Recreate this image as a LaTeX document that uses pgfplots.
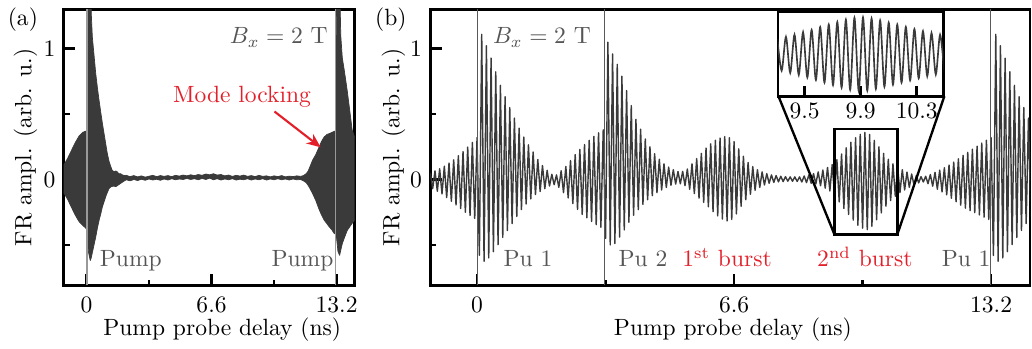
\documentclass[border=0pt]{standalone}
\usepackage{pgfplots}
\pgfplotsset{compat=1.18}
\usetikzlibrary{arrows.meta}
\definecolor{sig}{HTML}{3A3A3A}
\definecolor{txtgray}{HTML}{555555}
\definecolor{myred}{HTML}{E3202A}
\pgfplotsset{
  myax/.style={scale only axis, height=117.3pt,
    axis line style={line width=1.1pt},
    every tick/.style={black, line width=1.1pt},
    tick align=inside, major tick length=5pt, minor tick length=2.5pt,
    xtick pos=left, ytick pos=left,
    ymin=-0.81, ymax=1.3, ytick={0,1}, yticklabels={0,1}, minor ytick={-0.5,0.5},
    xtick={0,6.6,13.2}, xticklabels={0,6.6,13.2}, minor xtick={3.3,9.9},
    xticklabel style={yshift=-1.2pt},
    xlabel={Pump probe delay (ns)}, ylabel={FR ampl. (arb. u.)}}
}
\begin{document}
\begin{tikzpicture}
\path (0,0) rectangle (437pt,145.67pt);
% ---------------- panel (a)
\begin{axis}[myax, at={(25.41pt,26.4pt)}, anchor=south west, width=123.65pt,
  xmin=-1.2, xmax=14.15,
  xlabel style={at={(axis description cs:0.545,-0.159)}, anchor=center},
  ylabel style={at={(axis description cs:-0.131,0.5)}, anchor=center}]
\addplot[fill=sig, draw=sig, line width=0.3pt, line join=round] coordinates {(-1.2,0.11)(-1.0,0.16)(-0.8,0.22)(-0.6,0.28)(-0.4,0.33)(-0.2,0.36)(-0.05,0.37)(0.0,0.37)(0.02,0.9)(0.05,1.45)(0.22,1.45)(0.26,1.25)(0.31,1.09)(0.4,0.95)(0.49,0.81)(0.58,0.70)(0.67,0.60)(0.76,0.51)(0.84,0.43)(0.93,0.35)(1.02,0.27)(1.1,0.20)(1.19,0.14)(1.28,0.10)(1.36,0.07)(1.45,0.06)(1.55,0.065)(1.62,0.06)(1.7,0.045)(1.8,0.045)(1.9,0.035)(2.0,0.03)(2.1,0.032)(2.3,0.022)(2.5,0.03)(2.7,0.02)(2.9,0.028)(3.1,0.018)(3.3,0.025)(3.5,0.032)(3.7,0.022)(3.9,0.03)(4.1,0.024)(4.3,0.03)(4.5,0.022)(4.7,0.032)(4.9,0.026)(5.1,0.034)(5.3,0.028)(5.5,0.036)(5.7,0.03)(5.9,0.038)(6.1,0.032)(6.3,0.042)(6.5,0.036)(6.7,0.044)(6.9,0.034)(7.1,0.038)(7.3,0.028)(7.5,0.034)(7.7,0.024)(7.9,0.032)(8.1,0.026)(8.3,0.034)(8.5,0.024)(8.7,0.03)(8.9,0.022)(9.1,0.032)(9.3,0.024)(9.5,0.028)(9.7,0.02)(9.9,0.028)(10.1,0.022)(10.3,0.03)(10.5,0.02)(10.7,0.026)(10.9,0.022)(11.1,0.028)(11.3,0.024)(11.45,0.03)(11.6,0.045)(11.7,0.065)(11.8,0.10)(11.93,0.147)(12.1,0.19)(12.28,0.25)(12.4,0.29)(12.54,0.325)(12.7,0.345)(12.8,0.35)(12.95,0.36)(13.1,0.37)(13.15,0.37)(13.17,0.9)(13.2,1.45)(13.37,1.45)(13.42,1.1)(13.5,0.93)(13.6,0.84)(13.76,0.68)(13.9,0.52)(14.02,0.38)(14.2,0.30)
(14.2,-0.30)(14.02,-0.335)(13.9,-0.36)(13.76,-0.39)(13.6,-0.45)(13.5,-0.49)(13.42,-0.54)(13.36,-0.58)(13.27,-0.55)(13.2,-0.45)(13.15,-0.42)(13.06,-0.41)(12.95,-0.385)(12.8,-0.36)(12.7,-0.34)(12.54,-0.31)(12.4,-0.27)(12.28,-0.23)(12.1,-0.16)(11.93,-0.107)(11.8,-0.07)(11.7,-0.045)(11.6,-0.025)(11.45,-0.01)(11.3,0.0)(11.1,-0.002)(10.9,0.004)(10.7,-0.004)(10.5,0.004)(10.3,-0.002)(10.1,0.006)(9.9,-0.002)(9.7,0.004)(9.5,-0.004)(9.3,0.006)(9.1,-0.002)(8.9,0.004)(8.7,-0.004)(8.5,0.006)(8.3,-0.002)(8.1,0.002)(7.9,-0.004)(7.7,0.006)(7.5,-0.002)(7.3,0.004)(7.1,-0.004)(6.9,0.006)(6.7,-0.002)(6.5,0.01)(6.3,0.0)(6.1,0.008)(5.9,-0.002)(5.7,0.006)(5.5,0.0)(5.3,0.008)(5.1,0.0)(4.9,0.004)(4.7,-0.002)(4.5,0.006)(4.3,-0.004)(4.1,0.004)(3.9,-0.006)(3.7,0.002)(3.5,-0.004)(3.3,0.004)(3.1,-0.006)(2.9,0.002)(2.7,-0.008)(2.5,0.0)(2.3,-0.01)(2.1,-0.002)(1.95,-0.015)(1.8,-0.03)(1.65,-0.045)(1.55,-0.055)(1.45,-0.05)(1.3,-0.055)(1.19,-0.07)(1.1,-0.10)(1.02,-0.13)(0.93,-0.17)(0.84,-0.21)(0.76,-0.26)(0.67,-0.31)(0.58,-0.37)(0.49,-0.44)(0.4,-0.50)(0.31,-0.56)(0.25,-0.60)(0.2,-0.62)(0.1,-0.55)(0.06,-0.42)(0.0,-0.38)(-0.05,-0.37)(-0.2,-0.35)(-0.4,-0.32)(-0.6,-0.27)(-0.8,-0.21)(-1.0,-0.15)(-1.2,-0.10)};
\addplot[black!40, line width=0.5pt] coordinates {(0.03,-0.81)(0.03,1.3)};
\addplot[black!40, line width=0.5pt] coordinates {(13.16,-0.81)(13.16,1.3)};
\node[anchor=base, text=txtgray] at (axis cs:10.15,1.037) {$B_x = 2$ T};
\node[anchor=base, text=txtgray] at (axis cs:2.34,-0.666) {Pump};
\node[anchor=base, text=txtgray] at (axis cs:11.4,-0.666) {Pump};
\node[anchor=base, text=myred] at (axis cs:8.21,0.591) {Mode locking};
\draw[myred, line width=0.9pt, -{Stealth[length=6pt,width=5pt]}] (axis cs:9.92,0.52) -- (axis cs:12.36,0.246);
\end{axis}
% ---------------- panel (b)
\begin{axis}[myax, at={(181.24pt,26.4pt)}, anchor=south west, width=254.92pt,
  xmin=-1.2, xmax=14.2,
  xlabel style={at={(axis description cs:0.5045,-0.159)}, anchor=center},
  ylabel style={at={(axis description cs:-0.0615,0.5)}, anchor=center}]
\addplot[sig, line width=0.6pt, line join=round] coordinates {
(-1.20,0.05)(-1.14,-0.07)(-1.08,0.066)(-1.02,-0.09)(-0.96,0.082)(-0.90,-0.11)(-0.84,0.102)(-0.78,-0.138)(-0.72,0.126)(-0.66,-0.166)(-0.60,0.15)(-0.54,-0.194)(-0.48,0.182)(-0.42,-0.222)(-0.36,0.214)(-0.30,-0.25)(-0.24,0.248)(-0.18,-0.274)(-0.12,0.284)(-0.06,-0.298)(0.00,0.32)
(0.06,-0.58)(0.12,1.11)(0.18,-0.625)(0.24,1.023)(0.30,-0.60)(0.36,0.928)(0.42,-0.552)(0.48,0.824)(0.54,-0.498)(0.60,0.72)(0.66,-0.443)(0.72,0.633)(0.78,-0.39)(0.84,0.55)(0.90,-0.337)(0.96,0.47)(1.02,-0.283)(1.08,0.393)(1.14,-0.23)(1.20,0.325)(1.26,-0.187)(1.32,0.265)(1.38,-0.148)(1.44,0.21)(1.50,-0.115)(1.56,0.153)(1.62,-0.092)(1.68,0.107)(1.74,-0.07)(1.80,0.07)(1.86,-0.05)(1.92,0.04)(1.98,-0.04)(2.04,0.035)(2.10,-0.06)(2.16,0.067)(2.22,-0.10)(2.28,0.10)(2.34,-0.141)(2.40,0.145)(2.46,-0.184)(2.52,0.19)(2.58,-0.228)(2.64,0.23)(2.70,-0.267)(2.76,0.267)(2.82,-0.293)(2.88,0.30)(2.94,-0.32)(3.00,0.33)(3.06,-0.345)(3.12,0.357)(3.18,-0.365)(3.24,0.38)
(3.30,-0.45)(3.36,1.05)(3.42,-0.50)(3.48,0.96)(3.54,-0.49)(3.60,0.88)(3.66,-0.44)(3.72,0.79)(3.78,-0.385)(3.84,0.68)(3.90,-0.327)(3.96,0.565)(4.02,-0.273)(4.08,0.46)(4.14,-0.23)(4.20,0.385)(4.26,-0.19)(4.32,0.31)(4.38,-0.155)(4.44,0.25)(4.50,-0.124)(4.56,0.197)(4.62,-0.10)(4.68,0.155)(4.74,-0.08)(4.80,0.12)(4.86,-0.061)(4.92,0.095)(4.98,-0.044)(5.04,0.075)(5.10,-0.035)(5.16,0.061)(5.22,-0.033)(5.28,0.062)(5.34,-0.047)(5.40,0.08)(5.46,-0.075)(5.52,0.12)(5.58,-0.108)(5.64,0.16)(5.70,-0.142)(5.76,0.20)(5.82,-0.175)(5.88,0.24)(5.94,-0.209)(6.00,0.273)(6.06,-0.246)(6.12,0.30)(6.18,-0.278)(6.24,0.317)(6.30,-0.303)(6.36,0.328)(6.42,-0.317)(6.48,0.32)(6.54,-0.305)(6.60,0.29)(6.66,-0.263)(6.72,0.235)(6.78,-0.205)(6.84,0.178)(6.90,-0.155)(6.96,0.13)(7.02,-0.113)(7.08,0.098)(7.14,-0.083)(7.20,0.075)(7.26,-0.06)(7.32,0.058)(7.38,-0.042)(7.44,0.045)(7.50,-0.029)(7.56,0.035)(7.62,-0.022)(7.68,0.03)(7.74,-0.018)(7.80,0.025)(7.86,-0.016)(7.92,0.022)(7.98,-0.013)(8.04,0.02)(8.10,-0.013)(8.16,0.02)(8.22,-0.015)(8.28,0.02)(8.34,-0.019)(8.40,0.027)(8.46,-0.024)(8.52,0.035)(8.58,-0.029)(8.64,0.045)(8.70,-0.034)(8.76,0.058)(8.82,-0.048)(8.88,0.073)(8.94,-0.066)(9.00,0.092)(9.06,-0.088)(9.12,0.115)(9.18,-0.12)(9.24,0.152)(9.30,-0.171)(9.36,0.195)(9.42,-0.222)(9.48,0.243)(9.54,-0.267)(9.60,0.285)(9.66,-0.31)(9.72,0.32)(9.78,-0.35)(9.84,0.345)(9.90,-0.372)(9.96,0.36)(10.02,-0.383)(10.08,0.345)(10.14,-0.358)(10.20,0.30)(10.26,-0.308)(10.32,0.25)(10.38,-0.255)(10.44,0.20)(10.50,-0.204)(10.56,0.155)(10.62,-0.161)(10.68,0.12)(10.74,-0.128)(10.80,0.095)(10.86,-0.10)(10.92,0.075)(10.98,-0.08)(11.04,0.057)(11.10,-0.06)(11.16,0.042)(11.22,-0.042)(11.28,0.03)(11.34,-0.026)(11.40,0.022)(11.46,-0.019)(11.52,0.025)(11.58,-0.032)(11.64,0.038)(11.70,-0.051)(11.76,0.055)(11.82,-0.074)(11.88,0.072)(11.94,-0.095)(12.00,0.09)(12.06,-0.117)(12.12,0.11)(12.18,-0.143)(12.24,0.133)(12.30,-0.17)(12.36,0.158)(12.42,-0.196)(12.48,0.185)(12.54,-0.219)(12.60,0.208)(12.66,-0.238)(12.72,0.232)(12.78,-0.254)(12.84,0.255)(12.90,-0.271)(12.96,0.278)(13.02,-0.288)(13.08,0.30)(13.14,-0.305)
(13.20,0.32)(13.26,-0.58)(13.32,1.11)(13.38,-0.625)(13.44,1.023)(13.50,-0.60)(13.56,0.928)(13.62,-0.552)(13.68,0.824)(13.74,-0.498)(13.80,0.72)(13.86,-0.443)(13.92,0.633)(13.98,-0.39)(14.04,0.55)(14.10,-0.337)(14.16,0.47)(14.22,-0.283)};
\addplot[black!65, line width=0.5pt] coordinates {(0.02,-0.81)(0.02,1.3)};
\addplot[black!65, line width=0.5pt] coordinates {(3.28,-0.81)(3.28,1.3)};
\addplot[black!65, line width=0.5pt] coordinates {(13.19,-0.81)(13.19,1.3)};
\draw[black, line width=1.1pt] (axis cs:9.18,-0.422) rectangle (axis cs:10.79,0.385);
\draw[black, line width=1.0pt] (axis cs:7.74,0.637) -- (axis cs:9.18,-0.422);
\draw[black, line width=1.0pt] (axis cs:12.0,0.637) -- (axis cs:10.79,-0.422);
\node[anchor=base, text=txtgray] at (axis cs:1.667,1.037) {$B_x = 2$ T};
\node[anchor=base, text=txtgray] at (axis cs:1.31,-0.666) {Pu 1};
\node[anchor=base, text=txtgray] at (axis cs:4.26,-0.666) {Pu 2};
\node[anchor=base, text=myred] at (axis cs:6.42,-0.666) {1\textsuperscript{st} burst};
\node[anchor=base, text=myred] at (axis cs:9.96,-0.666) {2\textsuperscript{nd} burst};
\node[anchor=base, text=txtgray] at (axis cs:12.56,-0.666) {Pu 1};
\end{axis}
% ---------------- inset
\begin{axis}[scale only axis, at={(329.0pt,106.7pt)}, anchor=south west,
  width=70.3pt, height=36pt, xmin=9.31, xmax=10.49, ymin=-1, ymax=1,
  axis background/.style={fill=white},
  axis line style={line width=1.1pt},
  every tick/.style={black, line width=1.1pt},
  tick align=inside, major tick length=4.5pt, xtick pos=left,
  xtick={9.5,9.9,10.3}, xticklabels={9.5,9.9,10.3}, ytick=\empty,
  xticklabel style={yshift=0.8pt}]
\addplot[sig, line width=0.7pt, smooth] coordinates {(9.3060,0.36)(9.3365,-0.39)(9.3671,0.41)(9.3976,-0.44)(9.4282,0.46)(9.4587,-0.49)(9.4893,0.52)(9.5198,-0.55)(9.5504,0.575)(9.5809,-0.61)(9.6115,0.64)(9.6420,-0.67)(9.6726,0.70)(9.7031,-0.73)(9.7337,0.76)(9.7642,-0.79)(9.7948,0.815)(9.8253,-0.84)(9.8559,0.86)(9.8864,-0.87)(9.9170,0.87)(9.9475,-0.86)(9.9781,0.845)(10.0086,-0.82)(10.0392,0.80)(10.0697,-0.77)(10.1003,0.745)(10.1308,-0.72)(10.1614,0.70)(10.1919,-0.67)(10.2225,0.645)(10.2530,-0.62)(10.2836,0.595)(10.3141,-0.57)(10.3447,0.545)(10.3752,-0.52)(10.4058,0.50)(10.4363,-0.48)(10.4669,0.46)(10.4974,-0.45)};
\end{axis}
\node[anchor=base] at (8.05pt,136.9pt) {(a)};
\node[anchor=base] at (164.5pt,136.9pt) {(b)};
\end{tikzpicture}
\end{document}
